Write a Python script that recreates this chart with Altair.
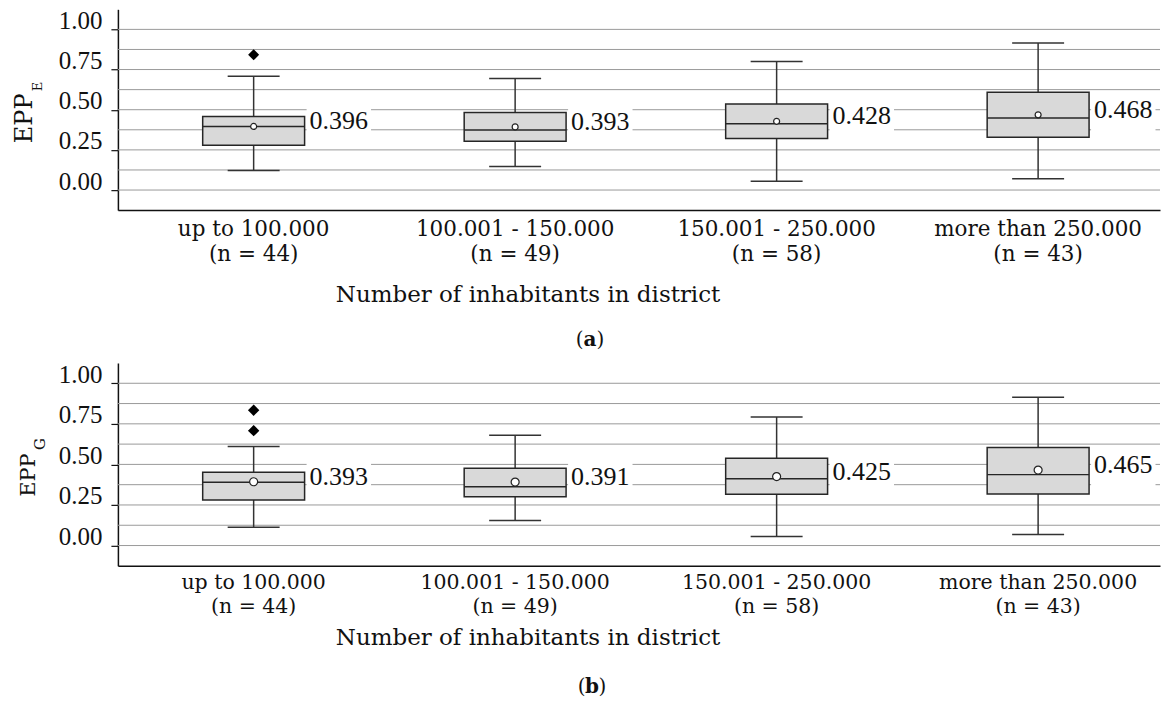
import altair as alt
import pandas as pd

# ---------------- data ----------------
categories = ["up to 100.000", "100.001 - 150.000", "150.001 - 250.000", "more than 250.000"]
n_obs = [44, 49, 58, 43]
positions = [1, 2, 3, 4]

# panel (a): EPP_E
a_min = [0.121, 0.146, 0.054, 0.071]
a_q1 = [0.279, 0.304, 0.321, 0.329]
a_med = [0.396, 0.373, 0.412, 0.448]
a_q3 = [0.458, 0.483, 0.535, 0.608]
a_max = [0.708, 0.694, 0.800, 0.915]
a_mean = [0.396, 0.393, 0.428, 0.468]
a_out_pos = [1]
a_out_val = [0.842]

# panel (b): EPP_G
b_min = [0.113, 0.154, 0.055, 0.068]
b_q1 = [0.281, 0.300, 0.316, 0.318]
b_med = [0.390, 0.363, 0.411, 0.437]
b_q3 = [0.452, 0.477, 0.538, 0.604]
b_max = [0.611, 0.680, 0.792, 0.914]
b_mean = [0.393, 0.391, 0.425, 0.465]
b_out_pos = [1, 1]
b_out_val = [0.834, 0.708]

grid_values = [0.0, 0.125, 0.25, 0.375, 0.5, 0.625, 0.75, 0.875, 1.0]
tick_values = [0.0, 0.25, 0.5, 0.75, 1.0]
x_title = "Number of inhabitants in district"

NUM_FONT = "Liberation Serif"
TXT_FONT = "DejaVu Serif"
INK = "#111111"
WIDTH = 1043


def panel(mins, q1, med, q3, mx, mean, out_pos, out_val, sub, cap, g):
    df = pd.DataFrame({
        "pos": positions, "cat": categories,
        "nlab": [f"(n = {n})" for n in n_obs],
        "min": mins, "q1": q1, "med": med, "q3": q3, "max": mx, "mean": mean,
    })
    out_df = pd.DataFrame({"pos": out_pos, "val": out_val})
    grid_df = pd.DataFrame({"g": grid_values})
    one = pd.DataFrame({"title": [x_title], "epp": ["EPP"], "sub": [sub],
                        "lp": ["("], "cap": [cap], "rp": [")"]})

    xscale = alt.Scale(domain=[0.5, 4.447], nice=False, zero=False)
    yscale = alt.Scale(domain=[-0.125, 1.125], nice=False, zero=False)
    X = alt.X("pos:Q", scale=xscale,
              axis=alt.Axis(title=None, labels=False, ticks=False, grid=False,
                            domainColor=INK, domainWidth=1.5))
    yaxis = alt.Axis(values=tick_values, format=".2f", title=None, grid=False,
                     tickSize=7, tickColor=INK, tickWidth=1.2,
                     domainColor=INK, domainWidth=1.5,
                     labelFont=NUM_FONT, labelFontSize=25, labelColor=INK,
                     labelPadding=9, labelBaseline="alphabetic", labelOffset=-1)

    base = alt.Chart(df)

    grid = alt.Chart(grid_df).mark_rule(color="#9a9a9a", strokeWidth=1).encode(
        y=alt.Y("g:Q", scale=yscale, axis=yaxis))

    wrect = base.mark_point(
        shape="M 5.3 -2.2 L 11.75 -2.2 L 11.75 1.8 L 5.3 1.8 Z",
        size=400, filled=True, fill="white", stroke=None, opacity=1,
    ).encode(x=X, y=alt.Y("mean:Q", scale=yscale))

    wl = base.mark_rule(color="#333333", strokeWidth=1.5).encode(
        x=X, y=alt.Y("min:Q", scale=yscale), y2="q1:Q")
    wh = base.mark_rule(color="#333333", strokeWidth=1.5).encode(
        x=X, y=alt.Y("q3:Q", scale=yscale), y2="max:Q")
    capl = base.mark_tick(orient="horizontal", size=52, thickness=1.5,
                          color="#333333", opacity=1).encode(
        x=X, y=alt.Y("min:Q", scale=yscale))
    caph = base.mark_tick(orient="horizontal", size=52, thickness=1.5,
                          color="#333333", opacity=1).encode(
        x=X, y=alt.Y("max:Q", scale=yscale))
    box = base.mark_bar(size=102, fill="#d9d9d9", stroke="#262626",
                        strokeWidth=1.5, opacity=1).encode(
        x=X, y=alt.Y("q1:Q", scale=yscale), y2="q3:Q")
    medl = base.mark_tick(orient="horizontal", size=102, thickness=1.5,
                          color="#262626", opacity=1).encode(
        x=X, y=alt.Y("med:Q", scale=yscale))
    meanp = base.mark_point(shape="circle", size=g["circle"], filled=True,
                            fill="white", stroke="#222222", strokeWidth=1.2,
                            opacity=1).encode(
        x=X, y=alt.Y("mean:Q", scale=yscale))
    outp = alt.Chart(out_df).mark_point(shape="diamond", size=g["diamond"],
                                        filled=True, color="black", opacity=1).encode(
        x=alt.X("pos:Q", scale=xscale), y=alt.Y("val:Q", scale=yscale))
    mlab = base.mark_text(align="left", baseline="alphabetic", dx=56, dy=3,
                          font=NUM_FONT, fontSize=26, color=INK).encode(
        x=X, y=alt.Y("mean:Q", scale=yscale), text=alt.Text("mean:Q", format=".3f"))

    h = g["height"]
    xl1 = base.mark_text(align="center", baseline="alphabetic", font=TXT_FONT,
                         fontSize=g["xl_size"], color=INK).encode(
        x=X, y=alt.value(h + g["l1"]), text="cat:N")
    xl2 = base.mark_text(align="center", baseline="alphabetic", font=TXT_FONT,
                         fontSize=g["xl_size"], color=INK).encode(
        x=X, y=alt.value(h + g["l2"]), text="nlab:N")

    ob = alt.Chart(one)
    ttl = ob.mark_text(align="center", baseline="alphabetic", font=TXT_FONT,
                       fontSize=23, color=INK).encode(
        x=alt.value(g["title_x"]), y=alt.value(h + g["title"]), text="title:N")
    cx = g["cap_x"]
    c1 = ob.mark_text(align="right", baseline="alphabetic", font=TXT_FONT,
                      fontSize=20, color=INK).encode(
        x=alt.value(cx - 6.5), y=alt.value(h + g["cap"]), text="lp:N")
    c2 = ob.mark_text(align="center", baseline="alphabetic", font=TXT_FONT,
                      fontSize=20, fontWeight="bold", color=INK).encode(
        x=alt.value(cx), y=alt.value(h + g["cap"]), text="cap:N")
    c3 = ob.mark_text(align="left", baseline="alphabetic", font=TXT_FONT,
                      fontSize=20, color=INK).encode(
        x=alt.value(cx + 6.5), y=alt.value(h + g["cap"]), text="rp:N")
    ep = ob.mark_text(align="left", baseline="alphabetic", angle=270,
                      font=TXT_FONT, fontSize=g["epp_size"], color=INK).encode(
        x=alt.value(g["epp_x"]), y=alt.value(g["epp_y"]), text="epp:N")
    es = ob.mark_text(align="left", baseline="alphabetic", angle=270,
                      font=TXT_FONT, fontSize=g["sub_size"], color=INK).encode(
        x=alt.value(g["sub_x"]), y=alt.value(g["sub_y"]), text="sub:N")

    return alt.layer(grid, wrect, wl, wh, capl, caph, box, medl, meanp, outp,
                     mlab, xl1, xl2, ttl, c1, c2, c3, ep, es).properties(
        width=WIDTH, height=h)


geo_a = dict(height=201, l1=26, l2=51, xl_size=21.5, title=92, cap=136,
             title_x=410.5, cap_x=472.5, epp_size=24, epp_x=-85.5, epp_y=134,
             sub_size=13, sub_x=-75.5, sub_y=82, circle=36, diamond=121)
geo_b = dict(height=203, l1=23, l2=47, xl_size=20.5, title=79, cap=127,
             title_x=410.5, cap_x=474.5, epp_size=21, epp_x=-82.5, epp_y=134,
             sub_size=15, sub_x=-72.5, sub_y=87, circle=64, diamond=130)

pa = panel(a_min, a_q1, a_med, a_q3, a_max, a_mean, a_out_pos, a_out_val, "E", "a", geo_a)
pb = panel(b_min, b_q1, b_med, b_q3, b_max, b_mean, b_out_pos, b_out_val, "G", "b", geo_b)

chart = alt.vconcat(pa, pb, spacing=12).properties(
    padding={"left": 5, "top": 0, "right": 0, "bottom": 0},
    background="white",
).configure_view(stroke=None)

chart.save("out.html", embed_options={"renderer": "svg", "actions": False})
